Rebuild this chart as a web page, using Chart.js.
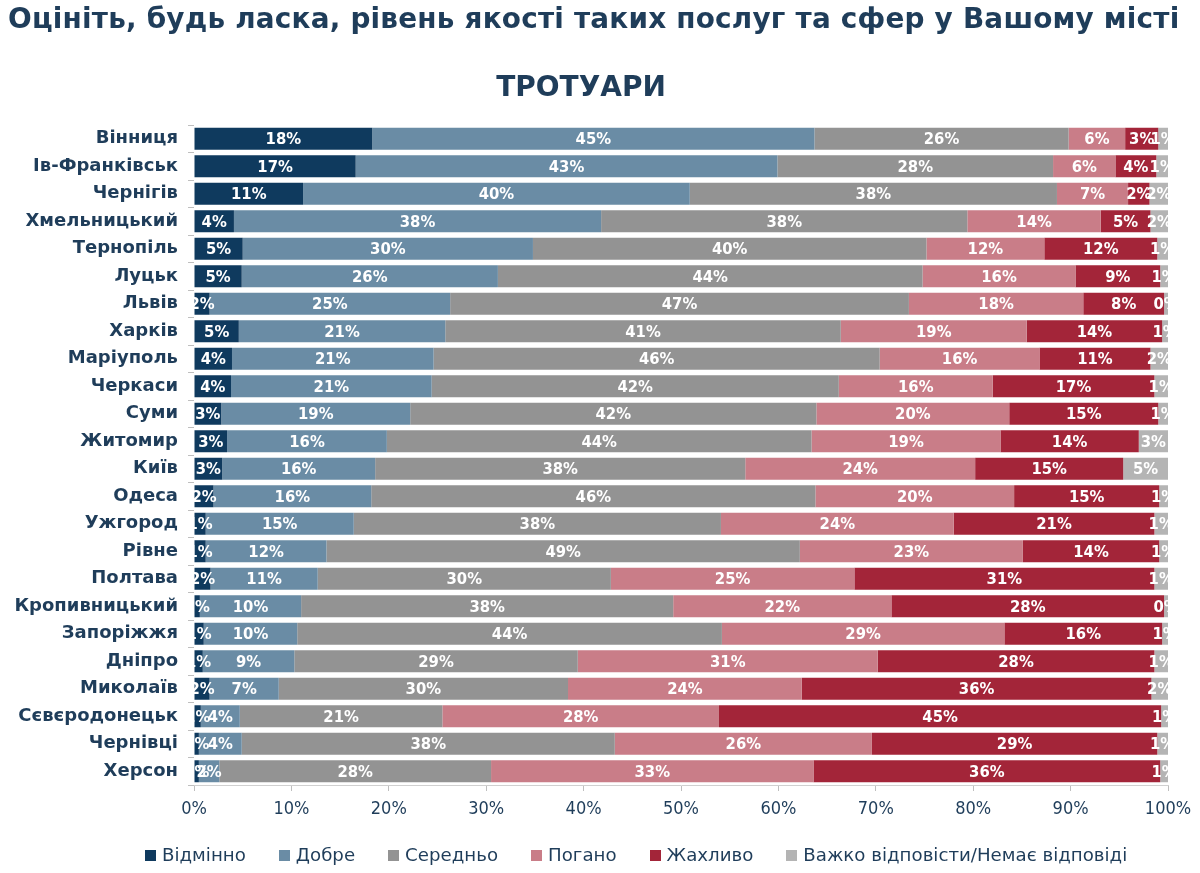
<!DOCTYPE html>
<html>
<head>
<meta charset="utf-8">
<script src="https://cdn.jsdelivr.net/npm/chart.js@4.4.1/dist/chart.umd.min.js"></script>
<style>
  html, body { margin: 0; padding: 0; background: #fff; }
  #wrap { position: relative; width: 1200px; height: 873px; }
  #title { position: absolute; left: 8px; top: 2px; font: bold 27.9px "DejaVu Sans", sans-serif; color: #1f3d5a; white-space: nowrap; letter-spacing: 0.2px; }
  #subtitle { position: absolute; left: 0; width: 1162px; top: 70px; text-align: center; font: bold 28px "DejaVu Sans", sans-serif; color: #1f3d5a; }
  canvas { position: absolute; left: 0; top: 0; }
  #legend { position: absolute; left: 145px; top: 843px; display: flex; font: 18.2px "DejaVu Sans", sans-serif; color: #1f3d5a; white-space: nowrap; line-height: 24px; }
  #legend .item { display: flex; align-items: center; margin-right: 33px; }
  #legend .box { width: 11px; height: 11px; margin-right: 6px; }
</style>
</head>
<body>
<div id="wrap">
  <canvas id="myChart" width="1200" height="873"></canvas>
  <div id="title">Оцініть, будь ласка, рівень якості таких послуг та сфер у Вашому місті</div>
  <div id="subtitle">ТРОТУАРИ</div>
  <div id="legend"></div>
</div>
<script>
const cities = [
  'Вінниця', 'Ів-Франківськ', 'Чернігів', 'Хмельницький', 'Тернопіль', 'Луцьк',
  'Львів', 'Харків', 'Маріуполь', 'Черкаси', 'Суми', 'Житомир',
  'Київ', 'Одеса', 'Ужгород', 'Рівне', 'Полтава', 'Кропивницький',
  'Запоріжжя', 'Дніпро', 'Миколаїв', 'Сєвєродонецьк', 'Чернівці', 'Херсон',
];
const excellent = [18.3, 16.6, 11.2, 4.1, 5.0, 4.9, 1.6, 4.6, 3.9, 3.8, 2.8, 3.4, 2.9, 2.0, 1.2, 1.2, 1.7, 0.6, 1.0, 0.9, 1.6, 0.7, 0.5, 0.5];
const good = [45.4, 43.3, 39.7, 37.7, 29.8, 26.3, 24.7, 21.2, 20.7, 20.6, 19.4, 16.4, 15.7, 16.2, 15.2, 12.4, 11.0, 10.4, 9.6, 9.4, 7.1, 4.0, 4.4, 2.1];
const average = [26.1, 28.3, 37.7, 37.6, 40.4, 43.6, 47.1, 40.6, 45.8, 41.8, 41.7, 43.6, 38.0, 45.6, 37.7, 48.6, 30.1, 38.2, 43.6, 29.1, 29.7, 20.8, 38.3, 27.9];
const bad = [5.8, 6.4, 7.3, 13.7, 12.1, 15.7, 17.9, 19.1, 16.4, 15.8, 19.8, 19.4, 23.6, 20.4, 23.9, 22.9, 25.0, 22.4, 29.0, 30.8, 24.0, 28.4, 26.4, 33.1];
const terrible = [3.4, 4.2, 2.2, 5.1, 11.6, 8.7, 8.3, 13.9, 11.4, 16.6, 15.3, 14.2, 15.2, 14.9, 20.6, 14.0, 30.8, 28.0, 16.2, 28.4, 35.9, 45.4, 29.3, 35.6];
const noAnswer = [1.0, 1.2, 1.9, 1.8, 1.1, 0.8, 0.4, 0.6, 1.8, 1.4, 1.0, 3.0, 4.6, 0.9, 1.4, 0.9, 1.4, 0.4, 0.6, 1.4, 1.7, 0.7, 1.1, 0.8];
const xTicks = [0, 10, 20, 30, 40, 50, 60, 70, 80, 90, 100];

const seriesNames = ['Відмінно', 'Добре', 'Середньо', 'Погано', 'Жахливо', 'Важко відповісти/Немає відповіді'];
const seriesColors = ['#0f3a5e', '#6a8ca5', '#939393', '#c97d88', '#a32539', '#b4b4b4'];
const seriesData = [excellent, good, average, bad, terrible, noAnswer];

const textColor = '#1f3d5a';

// white percentage labels in the middle of every segment
const segmentLabels = {
  id: 'segmentLabels',
  afterDatasetsDraw(chart) {
    const ctx = chart.ctx;
    const area = chart.chartArea;
    ctx.save();
    ctx.beginPath();
    ctx.rect(area.left, area.top, area.right - area.left, area.bottom - area.top);
    ctx.clip();
    ctx.fillStyle = '#fff';
    ctx.font = 'bold 16.5px "DejaVu Sans Condensed", "DejaVu Sans", sans-serif';
    ctx.textAlign = 'center';
    ctx.textBaseline = 'middle';
    chart.data.datasets.forEach((ds, i) => {
      chart.getDatasetMeta(i).data.forEach((bar, j) => {
        const x = (bar.x + bar.base) / 2;
        ctx.fillText(Math.round(ds.data[j]) + '%', x, bar.y + 1);
      });
    });
    ctx.restore();
  }
};

const config = {
  type: 'bar',
  data: {
    labels: cities,
    datasets: seriesNames.map((name, i) => ({
      label: name,
      data: seriesData[i],
      backgroundColor: seriesColors[i],
      borderWidth: 0,
      barPercentage: 0.8,
      categoryPercentage: 1.0,
    })),
  },
  options: {
    indexAxis: 'y',
    responsive: false,
    animation: false,
    layout: { padding: { top: 125, right: 32, left: 0, bottom: 52 } },
    scales: {
      x: {
        stacked: true,
        min: 0,
        max: 100,
        afterBuildTicks(scale) { scale.ticks = xTicks.map(v => ({ value: v })); },
        afterFit(scale) { scale.height = 36; },
        grid: { display: true, drawOnChartArea: false, drawTicks: true, tickLength: 6, color: '#bfbfbf' },
        border: { display: true, color: '#d0d0d0' },
        ticks: {
          color: textColor,
          padding: 8,
          font: { family: '"DejaVu Sans Condensed", "DejaVu Sans", sans-serif', size: 18 },
          callback: v => v + '%',
        },
      },
      y: {
        stacked: true,
        afterFit(scale) { scale.width = 194; },
        grid: { display: true, offset: true, drawOnChartArea: false, tickLength: 6, color: '#bfbfbf' },
        border: { display: false },
        ticks: {
          color: textColor,
          padding: 10,
          autoSkip: false,
          font: { family: '"DejaVu Sans", sans-serif', size: 18, weight: 'bold' },
        },
      },
    },
    plugins: {
      legend: { display: false },
      tooltip: { enabled: false },
      title: { display: false },
    },
  },
  plugins: [segmentLabels],
};

const myChart = new Chart(document.getElementById('myChart'), config);

// legend built from the chart's own datasets
const legendEl = document.getElementById('legend');
myChart.data.datasets.forEach(ds => {
  const item = document.createElement('div');
  item.className = 'item';
  const box = document.createElement('span');
  box.className = 'box';
  box.style.background = ds.backgroundColor;
  const text = document.createElement('span');
  text.textContent = ds.label;
  item.appendChild(box);
  item.appendChild(text);
  legendEl.appendChild(item);
});
</script>
</body>
</html>
